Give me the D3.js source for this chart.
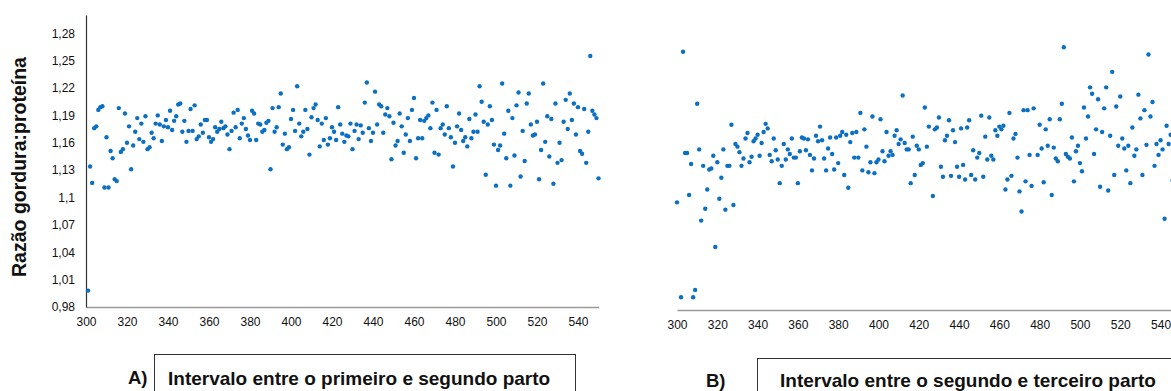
<!DOCTYPE html>
<html>
<head>
<meta charset="utf-8">
<script src="https://cdn.jsdelivr.net/npm/d3@7"></script>
<style>
  body { margin: 0; background: #fff; }
  svg { display: block; font-family: "Liberation Sans", Arial, sans-serif; }
</style>
</head>
<body>
<div id="chart"></div>
<script>
// A) first to second calving interval (days) vs fat:protein ratio
const daysA = [301,302,303,304,305,306,307,308,309,310,311,312,313,314,315,316,317,318,319,320,
  321,322,323,324,325,326,327,328,329,330,331,332,333,334,335,336,337,338,339,340,
  341,342,343,344,345,346,347,348,349,350,351,352,353,354,355,356,357,358,359,360,
  361,362,363,364,365,366,367,368,369,370,371,372,373,374,375,376,377,378,379,380,
  381,382,383,384,385,386,387,388,389,390,391,392,393,394,395,396,397,398,399,400,
  401,402,403,404,405,406,407,408,409,410,411,412,413,414,415,416,417,418,419,420,
  421,422,423,424,425,426,427,428,429,430,431,432,433,434,435,436,437,438,439,440,
  441,442,443,444,445,446,447,448,449,450,451,452,453,454,455,456,457,458,459,460,
  461,462,463,464,465,466,467,468,469,470,471,472,473,474,475,476,477,478,479,480,
  481,482,483,484,485,486,487,488,489,490,491,492,493,494,495,496,497,498,499,500,
  501,502,503,504,505,506,507,508,509,510,511,512,513,514,515,516,517,518,519,520,
  521,522,523,524,525,526,527,528,529,530,531,532,533,534,535,536,537,538,539,540,
  541,542,543,544,545,546,547,548,549,550];
const ratioA = [0.998,1.134,1.116,1.176,1.178,1.196,1.199,1.200,1.111,1.166,1.111,1.151,1.143,1.120,1.118,1.198,1.150,1.153,1.192,1.160,
  1.178,1.131,1.157,1.172,1.187,1.164,1.181,1.161,1.189,1.153,1.155,1.171,1.165,1.181,1.190,1.180,1.162,1.178,1.185,1.177,
  1.195,1.174,1.184,1.189,1.202,1.203,1.172,1.184,1.161,1.173,1.197,1.173,1.201,1.164,1.167,1.180,1.171,1.185,1.185,1.166,
  1.161,1.164,1.177,1.172,1.175,1.183,1.176,1.178,1.169,1.153,1.173,1.193,1.177,1.196,1.165,1.181,1.187,1.175,1.168,1.163,
  1.195,1.192,1.163,1.181,1.180,1.172,1.174,1.182,1.184,1.131,1.198,1.172,1.177,1.199,1.214,1.158,1.170,1.153,1.155,1.186,
  1.196,1.173,1.222,1.181,1.167,1.172,1.196,1.175,1.147,1.188,1.198,1.202,1.185,1.156,1.181,1.163,1.187,1.158,1.165,1.177,
  1.172,1.163,1.199,1.180,1.170,1.161,1.168,1.167,1.181,1.153,1.173,1.180,1.164,1.179,1.171,1.204,1.226,1.176,1.162,1.171,
  1.216,1.180,1.202,1.200,1.171,1.191,1.198,1.189,1.142,1.182,1.157,1.162,1.192,1.178,1.149,1.169,1.187,1.162,1.196,1.209,
  1.143,1.165,1.185,1.165,1.184,1.187,1.190,1.176,1.204,1.149,1.196,1.147,1.176,1.180,1.169,1.200,1.176,1.166,1.134,1.160,
  1.178,1.192,1.174,1.162,1.166,1.156,1.186,1.165,1.172,1.191,1.172,1.222,1.205,1.183,1.125,1.180,1.200,1.185,1.158,1.113,
  1.152,1.157,1.225,1.170,1.143,1.195,1.113,1.187,1.146,1.201,1.215,1.123,1.173,1.140,1.203,1.214,1.180,1.168,1.169,1.183,
  1.120,1.152,1.225,1.161,1.189,1.145,1.186,1.115,1.203,1.138,1.160,1.141,1.183,1.207,1.175,1.214,1.185,1.203,1.169,1.199,
  1.151,1.148,1.197,1.138,1.172,1.255,1.195,1.191,1.187,1.121];

// B) second to third calving interval
const daysB = [300,302,303,304,305,306,307,308,309,310,311,312,313,314,315,316,317,318,319,320,
  321,322,323,324,325,326,327,328,329,330,331,332,333,334,335,336,337,338,339,340,
  341,342,343,344,345,346,347,348,349,350,351,352,353,354,355,356,357,358,359,360,
  361,362,363,364,365,366,367,368,369,370,371,372,373,374,375,376,377,378,379,380,
  381,382,383,384,385,386,387,388,389,390,391,392,393,394,395,396,397,398,399,400,
  401,402,403,404,405,406,407,408,409,410,411,412,413,414,415,416,417,418,419,420,
  421,422,423,424,425,427,428,429,430,431,432,433,434,435,436,437,438,439,440,441,
  442,443,444,445,446,447,448,449,450,451,452,453,454,455,456,457,458,459,460,461,
  462,463,464,465,466,467,468,469,470,471,472,473,474,475,476,477,479,480,481,482,
  483,484,485,486,487,488,489,490,491,492,493,494,495,496,497,498,499,500,501,502,
  503,504,505,506,507,508,509,510,511,512,513,514,515,516,517,518,519,520,521,522,
  523,524,525,526,527,528,529,530,531,532,533,534,535,536,537,538,539,540,541,542,
  543,544,545,546];
const ratioB = [1.098,0.994,1.263,1.152,1.152,1.106,1.140,0.994,1.002,1.206,1.156,1.078,1.138,1.091,1.112,1.134,1.135,1.149,1.049,1.142,
  1.102,1.125,1.156,1.090,1.138,1.138,1.183,1.095,1.162,1.159,1.153,1.138,1.146,1.168,1.174,1.142,1.148,1.165,1.168,1.172,
  1.149,1.163,1.175,1.184,1.179,1.150,1.143,1.168,1.155,1.145,1.119,1.138,1.162,1.145,1.156,1.151,1.168,1.147,1.147,1.119,
  1.154,1.169,1.168,1.155,1.167,1.150,1.133,1.146,1.171,1.165,1.181,1.166,1.146,1.133,1.157,1.169,1.151,1.134,1.169,1.141,
  1.171,1.175,1.128,1.172,1.114,1.164,1.174,1.147,1.175,1.147,1.196,1.133,1.178,1.159,1.131,1.142,1.192,1.130,1.142,1.145,
  1.189,1.154,1.143,1.175,1.149,1.154,1.150,1.171,1.177,1.162,1.167,1.215,1.163,1.156,1.156,1.119,1.170,1.128,1.160,1.156,
  1.139,1.141,1.202,1.159,1.181,1.105,1.178,1.180,1.191,1.137,1.126,1.166,1.171,1.188,1.127,1.177,1.164,1.137,1.126,1.179,
  1.139,1.123,1.180,1.188,1.128,1.155,1.123,1.147,1.152,1.193,1.126,1.170,1.145,1.191,1.149,1.145,1.177,1.171,1.181,1.178,
  1.182,1.112,1.123,1.196,1.127,1.168,1.173,1.147,1.110,1.088,1.199,1.121,1.199,1.150,1.116,1.201,1.150,1.183,1.157,1.120,
  1.178,1.160,1.189,1.106,1.158,1.146,1.143,1.189,1.206,1.268,1.151,1.148,1.146,1.169,1.121,1.154,1.160,1.141,1.132,1.202,
  1.168,1.192,1.224,1.217,1.151,1.178,1.211,1.115,1.175,1.201,1.224,1.111,1.171,1.241,1.128,1.203,1.160,1.214,1.168,1.157,
  1.133,1.160,1.119,1.180,1.149,1.156,1.216,1.190,1.128,1.199,1.161,1.260,1.192,1.208,1.138,1.162,1.150,1.166,1.156,1.080,
  1.182,1.162,1.172,1.122];

const xTicks = [300,320,340,360,380,400,420,440,460,480,500,520,540];
const yTicks = [0.98,1.01,1.04,1.07,1.10,1.13,1.16,1.19,1.22,1.25,1.28];
const yTickLabels = ['0,98','1,01','1,04','1,07','1,1','1,13','1,16','1,19','1,22','1,25','1,28'];
const yTitle = 'Razão gordura:proteína';
const captions = ['Intervalo entre o primeiro e segundo parto', 'Intervalo entre o segundo e terceiro parto'];
const panelTags = ['A)', 'B)'];

const W = 1171, H = 391;
const dotColor = '#0b6fc2';

const svg = d3.select('#chart').append('svg')
  .attr('width', W)
  .attr('height', H);

function drawPanel(days, ratio, box, showY) {
  const x = d3.scaleLinear().domain([300, 550]).range([box.left, box.right]);
  const y = d3.scaleLinear().domain([0.98, 1.30]).range([box.bottom, box.top]);

  // x axis: grey baseline, labels only
  const gx = svg.append('g')
    .attr('transform', `translate(0,${box.bottom})`)
    .call(d3.axisBottom(x).tickValues(xTicks).tickSize(0).tickPadding(10).tickFormat(d3.format('d')));
  gx.select('.domain').attr('stroke', '#9a9a9a').attr('stroke-width', 1.5);
  gx.selectAll('text').attr('font-size', 12).attr('fill', '#111').attr('font-family', 'Liberation Sans, Arial, sans-serif');

  if (showY) {
    const gy = svg.append('g')
      .attr('transform', `translate(${box.left},0)`)
      .call(d3.axisLeft(y).tickValues(yTicks).tickSize(0).tickPadding(11)
        .tickFormat((d, i) => yTickLabels[i]));
    gy.select('.domain').attr('stroke', '#333').attr('stroke-width', 1.2);
    gy.selectAll('text').attr('font-size', 12).attr('fill', '#111').attr('font-family', 'Liberation Sans, Arial, sans-serif');
  }

  svg.append('g').selectAll('circle')
    .data(days)
    .join('circle')
    .attr('cx', d => x(d))
    .attr('cy', (d, i) => y(ratio[i]))
    .attr('r', 2.2)
    .attr('fill', dotColor);
}

drawPanel(daysA, ratioA, { left: 86, right: 598.5, top: 15, bottom: 307 }, true);
drawPanel(daysB, ratioB, { left: 677, right: 1180.7, top: 18, bottom: 310 }, false);

// y axis title
svg.append('text')
  .attr('transform', 'translate(26,167) rotate(-90)')
  .attr('text-anchor', 'middle')
  .attr('font-size', 19.5)
  .attr('font-weight', 'bold')
  .attr('fill', '#111')
  .text(yTitle);

// caption boxes
const capBoxes = [
  { tagX: 128, tagY: 384, boxX: 154, boxY: 354, boxW: 421, textX: 168, textY: 385 },
  { tagX: 706, tagY: 387, boxX: 757, boxY: 358, boxW: 420, textX: 780, textY: 387 }
];
capBoxes.forEach((c, i) => {
  svg.append('rect')
    .attr('x', c.boxX + 0.5).attr('y', c.boxY + 0.5)
    .attr('width', c.boxW).attr('height', 60)
    .attr('fill', 'none').attr('stroke', '#333').attr('stroke-width', 1);
  svg.append('text')
    .attr('x', c.tagX).attr('y', c.tagY)
    .attr('font-size', 18.5).attr('font-weight', 'bold').attr('fill', '#111')
    .text(panelTags[i]);
  svg.append('text')
    .attr('x', c.textX).attr('y', c.textY)
    .attr('font-size', 19).attr('font-weight', 'bold').attr('fill', '#111')
    .text(captions[i]);
});
</script>
</body>
</html>
